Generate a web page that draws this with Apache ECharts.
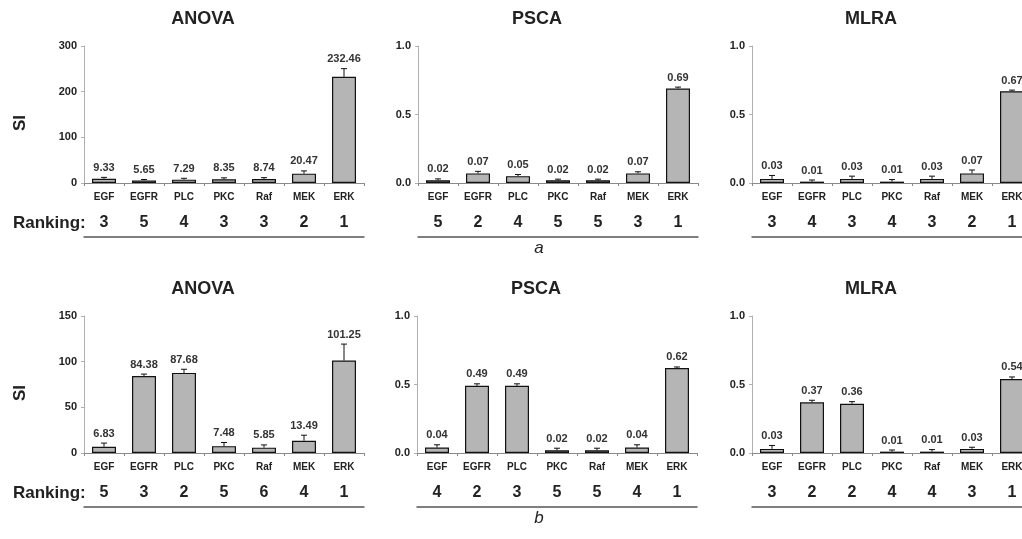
<!DOCTYPE html>
<html style="height: 100%">
<head>
    <meta charset="UTF-8">
    <title>SI ranking</title>
    <script src="https://cdn.jsdelivr.net/npm/echarts@6/dist/echarts.min.js"></script>
</head>
<body style="height: 100%; margin: 0; background: #fff">
    <div id="main" style="width: 1022px; height: 539px;"></div>
    <script>
        // categories shared by every panel
        var categories = ['EGF', 'EGFR', 'PLC', 'PKC', 'Raf', 'MEK', 'ERK'];

        // row a
        var anovaA = [9.33, 5.65, 7.29, 8.35, 8.74, 20.47, 232.46];
        var anovaAErr = [3, 2, 3, 3, 3, 6, 18];
        var anovaARank = ['3', '5', '4', '3', '3', '2', '1'];
        var pscaA = [0.02, 0.07, 0.05, 0.02, 0.02, 0.07, 0.69];
        var pscaAErr = [0.01, 0.015, 0.012, 0.008, 0.008, 0.012, 0.01];
        var pscaARank = ['5', '2', '4', '5', '5', '3', '1'];
        var mlraA = [0.03, 0.01, 0.03, 0.01, 0.03, 0.07, 0.67];
        var mlraAErr = [0.025, 0.012, 0.02, 0.015, 0.02, 0.025, 0.008];
        var mlraARank = ['3', '4', '3', '4', '3', '2', '1'];

        // row b
        var anovaB = [6.83, 84.38, 87.68, 7.48, 5.85, 13.49, 101.25];
        var anovaBErr = [4, 2, 4, 4, 3, 6, 18];
        var anovaBRank = ['5', '3', '2', '5', '6', '4', '1'];
        var pscaB = [0.04, 0.49, 0.49, 0.02, 0.02, 0.04, 0.62];
        var pscaBErr = [0.02, 0.015, 0.015, 0.015, 0.015, 0.02, 0.008];
        var pscaBRank = ['4', '2', '3', '5', '5', '4', '1'];
        var mlraB = [0.03, 0.37, 0.36, 0.01, 0.01, 0.03, 0.54];
        var mlraBErr = [0.025, 0.015, 0.015, 0.012, 0.015, 0.012, 0.015];
        var mlraBRank = ['3', '2', '2', '4', '4', '3', '1'];

        var FONT = 'Arial, "Liberation Sans", sans-serif';

        var panels = [
            { title: 'ANOVA', left: 84, top: 46, max: 300, interval: 100, dec: 0, v: anovaA, e: anovaAErr, r: anovaARank },
            { title: 'PSCA', left: 418, top: 46, max: 1, interval: 0.5, dec: 1, v: pscaA, e: pscaAErr, r: pscaARank },
            { title: 'MLRA', left: 752, top: 46, max: 1, interval: 0.5, dec: 1, v: mlraA, e: mlraAErr, r: mlraARank },
            { title: 'ANOVA', left: 84, top: 316, max: 150, interval: 50, dec: 0, v: anovaB, e: anovaBErr, r: anovaBRank },
            { title: 'PSCA', left: 417, top: 316, max: 1, interval: 0.5, dec: 1, v: pscaB, e: pscaBErr, r: pscaBRank },
            { title: 'MLRA', left: 752, top: 316, max: 1, interval: 0.5, dec: 1, v: mlraB, e: mlraBErr, r: mlraBRank }
        ];

        var grid = [], xAxis = [], yAxis = [], series = [], graphic = [];
        var W = 280, H = 137;

        panels.forEach(function (p, k) {
            // the right column runs past the page edge, as in the figure
            grid.push({ left: p.left, top: p.top, width: W, height: H, outerBoundsMode: 'none' });
            // category axis
            xAxis.push({
                type: 'category', gridIndex: k, data: categories,
                axisLine: { lineStyle: { color: '#8a8a8a', width: 1 } },
                axisTick: { show: true, length: 3, lineStyle: { color: '#8a8a8a' } },
                axisLabel: { color: '#222', fontFamily: FONT, fontWeight: 'bold', fontSize: 10, margin: 9 }
            });
            // ranking row, with its underline
            xAxis.push({
                type: 'category', gridIndex: k, data: p.r, position: 'top',
                offset: -(H + 54),
                axisLine: { show: true, lineStyle: { color: '#555', width: 1.5 } },
                axisTick: { show: false },
                axisLabel: { color: '#222', fontFamily: FONT, fontWeight: 'bold', fontSize: 16, margin: 6 }
            });
            yAxis.push({
                type: 'value', gridIndex: k, min: 0, max: p.max, interval: p.interval,
                axisLine: { show: true, lineStyle: { color: '#b0b0b0' } },
                axisTick: { show: true, length: 3, lineStyle: { color: '#b0b0b0' } },
                splitLine: { show: false },
                axisLabel: {
                    color: '#222', fontFamily: FONT, fontWeight: 'bold', fontSize: 11, margin: 7,
                    formatter: function (val) { return val.toFixed(p.dec); }
                }
            });
            series.push({
                type: 'bar', xAxisIndex: 2 * k, yAxisIndex: k, data: p.v,
                barWidth: '60%',
                itemStyle: { color: '#b5b5b5', borderColor: '#111', borderWidth: 1.2 },
                silent: true
            });
            series.push({
                type: 'custom', xAxisIndex: 2 * k, yAxisIndex: k, z: 5,
                data: p.v.map(function (val, i) { return [i, val, p.e[i]]; }),
                encode: { x: 0, y: 1 },
                clip: false,
                renderItem: function (params, api) {
                    var i = api.value(0), val = api.value(1), err = api.value(2);
                    var base = api.coord([i, val]);
                    var top = api.coord([i, val + err]);
                    var st = { stroke: '#111', lineWidth: 1 };
                    return {
                        type: 'group',
                        children: [
                            { type: 'line', shape: { x1: base[0], y1: base[1], x2: top[0], y2: top[1] }, style: st },
                            { type: 'line', shape: { x1: top[0] - 3, y1: top[1], x2: top[0] + 3, y2: top[1] }, style: st },
                            {
                                type: 'text', x: top[0], y: top[1] - 4,
                                style: {
                                    text: val.toFixed(2), align: 'center', verticalAlign: 'bottom',
                                    font: 'bold 11px ' + FONT, fill: '#333'
                                }
                            }
                        ]
                    };
                }
            });
            // panel title
            graphic.push({
                type: 'text', x: p.left + 119, y: p.top - 27,
                style: { text: p.title, align: 'center', verticalAlign: 'middle', font: 'bold 18px ' + FONT, fill: '#222' }
            });
        });

        // shared labels
        [46, 316].forEach(function (t, row) {
            graphic.push({
                type: 'text', x: 20, y: t + 77, rotation: Math.PI / 2,
                style: { text: 'SI', align: 'center', verticalAlign: 'middle', font: 'bold 17px ' + FONT, fill: '#222' }
            });
            graphic.push({
                type: 'text', x: 13, y: t + 177,
                style: { text: 'Ranking:', align: 'left', verticalAlign: 'middle', font: 'bold 17px ' + FONT, fill: '#222' }
            });
            graphic.push({
                type: 'text', x: 539, y: t + 202,
                style: { text: row === 0 ? 'a' : 'b', align: 'center', verticalAlign: 'middle', font: 'italic 17px ' + FONT, fill: '#222' }
            });
        });

        var myChart = echarts.init(document.getElementById('main'));
        myChart.setOption({
            animation: false,
            grid: grid,
            xAxis: xAxis,
            yAxis: yAxis,
            series: series,
            graphic: graphic
        });
    </script>
</body>
</html>
